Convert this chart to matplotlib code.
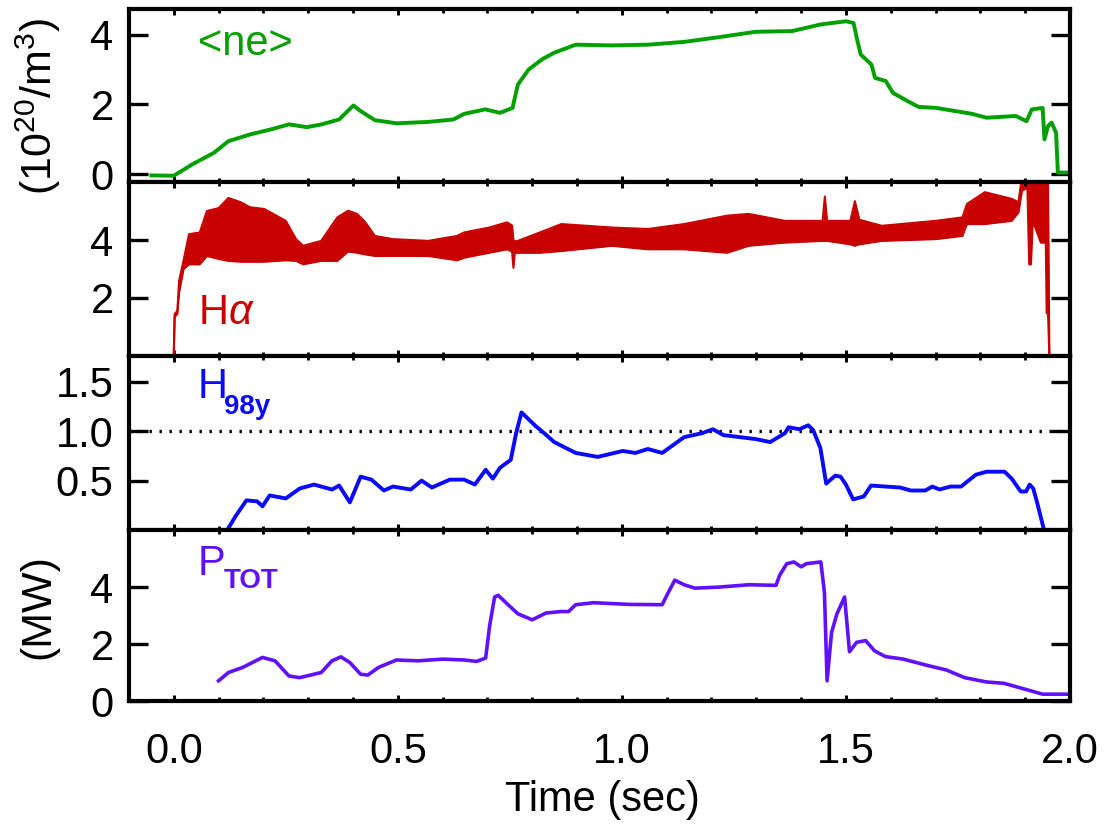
import matplotlib
matplotlib.use('Agg')
import matplotlib.pyplot as plt
from matplotlib.ticker import MultipleLocator

plt.rcParams['font.family'] = ['Liberation Sans', 'DejaVu Sans']
plt.rcParams['mathtext.fontset'] = 'custom'
plt.rcParams['mathtext.rm'] = 'Liberation Sans'
plt.rcParams['mathtext.it'] = 'Liberation Sans:italic'
plt.rcParams['mathtext.bf'] = 'Liberation Sans:bold'

# line averaged density <ne> (1e20/m3)
ne_t = [-0.05, 0.0, 0.042, 0.09, 0.122, 0.17, 0.218, 0.257, 0.297, 0.33, 0.369,
        0.401, 0.417, 0.449, 0.497, 0.568, 0.624, 0.648, 0.695, 0.728, 0.756,
        0.768, 0.792, 0.823, 0.849, 0.897, 0.978, 1.058, 1.139, 1.219, 1.299,
        1.380, 1.444, 1.500, 1.517, 1.525, 1.533, 1.557, 1.565, 1.589, 1.605,
        1.637, 1.662, 1.702, 1.782, 1.814, 1.879, 1.903, 1.915, 1.939, 1.943,
        1.951, 1.959, 1.969, 1.973, 2.0]
ne_v = [-0.03, -0.04, 0.29, 0.62, 0.95, 1.14, 1.29, 1.43, 1.35, 1.43, 1.57,
        1.97, 1.81, 1.55, 1.46, 1.50, 1.57, 1.73, 1.86, 1.76, 1.90,
        2.57, 3.0, 3.3, 3.48, 3.71, 3.69, 3.71, 3.79, 3.93, 4.08,
        4.10, 4.29, 4.38, 4.33, 3.86, 3.43, 3.14, 2.76, 2.67, 2.33,
        2.10, 1.93, 1.90, 1.73, 1.62, 1.67, 1.52, 1.86, 1.90, 1.0,
        1.38, 1.48, 1.19, 0.05, 0.05]

# H-alpha signal, upper / lower envelope of the noisy trace
ha_t = [-0.02, 0.0, 0.002, 0.008, 0.012, 0.022, 0.034, 0.058, 0.074, 0.10,
        0.122, 0.15, 0.17, 0.202, 0.25, 0.273, 0.289, 0.329, 0.365, 0.389,
        0.409, 0.425, 0.449, 0.489, 0.568, 0.632, 0.648, 0.704, 0.744, 0.755,
        0.758, 0.761, 0.768, 0.817, 0.865, 0.978, 1.058, 1.139, 1.235, 1.283,
        1.364, 1.448, 1.453, 1.458, 1.51, 1.52, 1.53, 1.58, 1.70, 1.76,
        1.77, 1.81, 1.87, 1.885, 1.893, 1.905, 1.909, 1.913, 1.917, 1.935,
        1.946, 1.948, 1.951, 1.954, 1.962]
ha_hi = [0.03, 0.03, 1.45, 1.55, 2.6, 3.3, 4.2, 4.26, 5.0, 5.1,
         5.45, 5.3, 5.13, 5.07, 4.66, 4.03, 3.80, 3.97, 4.78, 5.01,
         4.90, 4.66, 4.14, 4.03, 3.97, 4.14, 4.26, 4.43, 4.61, 4.5,
         4.0, 3.95, 3.97, 4.26, 4.55, 4.43, 4.38, 4.55, 4.84, 4.90,
         4.66, 4.66, 5.50, 4.66, 4.66, 5.34, 4.7, 4.49, 4.66, 4.78,
         5.24, 5.65, 5.42, 5.30, 6.2, 6.2, 6.2, 6.2, 6.2, 6.2,
         6.2, 6.2, 6.2, 0.03, 0.03]
ha_lo = [0.0, 0.0, 1.35, 1.45, 2.2, 3.0, 3.16, 3.16, 3.45, 3.35,
         3.28, 3.25, 3.25, 3.25, 3.30, 3.28, 3.16, 3.28, 3.28, 3.60,
         3.56, 3.51, 3.45, 3.45, 3.45, 3.30, 3.39, 3.56, 3.68, 3.6,
         3.04, 3.55, 3.56, 3.56, 3.62, 3.80, 3.68, 3.68, 3.56, 3.80,
         3.91, 3.97, 3.97, 3.97, 3.85, 3.80, 3.85, 3.97, 4.03, 4.14,
         4.55, 4.55, 4.66, 4.95, 5.7, 5.8, 3.16, 3.16, 4.66, 3.91,
         3.91, 1.48, 1.48, 0.0, 0.0]

# confinement factor H98y
h98_t = [0.122, 0.138, 0.162, 0.186, 0.198, 0.214, 0.25, 0.281, 0.313, 0.353,
         0.369, 0.393, 0.417, 0.441, 0.469, 0.489, 0.529, 0.553, 0.576, 0.616,
         0.648, 0.672, 0.696, 0.712, 0.728, 0.752, 0.764, 0.776, 0.808, 0.824,
         0.849, 0.897, 0.946, 1.002, 1.03, 1.058, 1.090, 1.139, 1.179, 1.203,
         1.227, 1.299, 1.331, 1.364, 1.372, 1.396, 1.416, 1.427, 1.443, 1.456,
         1.476, 1.488, 1.500, 1.516, 1.540, 1.556, 1.621, 1.645, 1.677, 1.693,
         1.709, 1.733, 1.757, 1.790, 1.814, 1.854, 1.870, 1.890, 1.902, 1.910,
         1.918, 1.926, 1.941]
h98_v = [0.02, 0.14, 0.30, 0.29, 0.24, 0.35, 0.32, 0.42, 0.46, 0.41,
         0.45, 0.28, 0.54, 0.51, 0.40, 0.44, 0.41, 0.50, 0.43, 0.51,
         0.51, 0.46, 0.61, 0.52, 0.63, 0.71, 0.98, 1.19, 1.05, 0.99,
         0.89, 0.78, 0.74, 0.80, 0.78, 0.82, 0.78, 0.94, 0.98, 1.02,
         0.96, 0.92, 0.89, 0.98, 1.04, 1.02, 1.06, 1.01, 0.83, 0.47,
         0.55, 0.54, 0.46, 0.31, 0.34, 0.45, 0.43, 0.40, 0.40, 0.44,
         0.41, 0.44, 0.44, 0.56, 0.59, 0.59, 0.52, 0.39, 0.39, 0.46,
         0.42, 0.29, 0.02]

# total heating power (MW)
pt_t = [0.10, 0.122, 0.154, 0.198, 0.226, 0.257, 0.281, 0.329, 0.353, 0.373,
        0.393, 0.417, 0.433, 0.457, 0.497, 0.545, 0.60, 0.648, 0.676, 0.696,
        0.705, 0.716, 0.724, 0.744, 0.768, 0.80, 0.831, 0.865, 0.881, 0.897,
        0.937, 1.018, 1.090, 1.102, 1.118, 1.139, 1.163, 1.219, 1.283, 1.344,
        1.352, 1.368, 1.384, 1.400, 1.412, 1.444, 1.452, 1.458, 1.468, 1.480,
        1.497, 1.508, 1.524, 1.544, 1.564, 1.588, 1.628, 1.684, 1.724, 1.765,
        1.813, 1.853, 1.894, 1.939, 2.0]
pt_v = [0.71, 1.0, 1.18, 1.53, 1.41, 0.88, 0.82, 1.0, 1.41, 1.55,
        1.35, 0.94, 0.91, 1.18, 1.44, 1.41, 1.47, 1.44, 1.39, 1.51,
        2.65, 3.65, 3.71, 3.41, 3.06, 2.85, 3.09, 3.14, 3.14, 3.38,
        3.45, 3.39, 3.38, 3.76, 4.24, 4.08, 3.96, 4.0, 4.08, 4.06,
        4.41, 4.82, 4.88, 4.71, 4.82, 4.88, 3.82, 0.71, 2.41, 3.06,
        3.65, 1.73, 2.06, 2.12, 1.76, 1.56, 1.47, 1.24, 1.09, 0.82,
        0.67, 0.62, 0.44, 0.24, 0.24]

green = '#00a000'
red = '#c80000'
blue = '#0a0aff'
purple = '#6010ff'

fig = plt.figure(figsize=(11.05, 8.3), dpi=100)
left, width = 0.1167, 0.8516
rects = [(left, 0.7807, width, 0.2084),
         (left, 0.5711, width, 0.2096),
         (left, 0.3614, width, 0.2096),
         (left, 0.1554, width, 0.2060)]
axs = [fig.add_axes(r) for r in rects]

for ax in axs:
    ax.set_xlim(-0.1, 2.0)
    ax.xaxis.set_major_locator(MultipleLocator(0.5))
    ax.xaxis.set_minor_locator(MultipleLocator(0.1))
    ax.tick_params(axis='x', which='major', direction='in', top=True, bottom=True,
                   length=4.3, width=2.2, labelsize=30, pad=22)
    ax.tick_params(axis='x', which='minor', direction='in', top=True, bottom=True,
                   length=2.9, width=2.0)
    ax.tick_params(axis='y', which='major', direction='in', left=True, right=True,
                   length=13.5, width=2.4, labelsize=30, pad=11)
    for s in ax.spines.values():
        s.set_linewidth(3.0)
    if ax is not axs[-1]:
        ax.tick_params(axis='x', labelbottom=False)

# density
ax = axs[0]
ax.plot(ne_t, ne_v, color=green, lw=2.8)
ax.set_ylim(-0.22, 4.73)
ax.set_yticks([0, 2, 4])
ax.text(0.073, 0.80, '<ne>', color=green, fontsize=30, transform=ax.transAxes,
        ha='left', va='center')

# H-alpha
ax = axs[1]
ax.fill_between(ha_t, ha_lo, ha_hi, color=red, lw=0)
ax.plot(ha_t, ha_hi, color=red, lw=1.5)
ax.plot(ha_t, ha_lo, color=red, lw=1.5)
ax.set_ylim(0, 6.0)
ax.set_yticks([2, 4])
ax.text(0.073, 0.247, r'H$\alpha$', color=red, fontsize=30, transform=ax.transAxes,
        ha='left', va='center')

# H98y
ax = axs[2]
ax.axhline(1.0, color='black', lw=2.4, ls=(0, (0.7, 2.3)))
ax.plot(h98_t, h98_v, color=blue, lw=2.8)
ax.set_ylim(0, 1.76)
ax.set_yticks([0.5, 1.0, 1.5])
ax.set_yticklabels(['0.5', '1.0', '1.5'])
ax.text(0.073, 0.82, 'H', color=blue, fontsize=30, transform=ax.transAxes,
        ha='left', va='center')
ax.text(0.101, 0.71, '98y', color=blue, fontsize=20, fontweight='bold',
        transform=ax.transAxes, ha='left', va='center')

# P_TOT
ax = axs[3]
ax.plot(pt_t, pt_v, color=purple, lw=2.6)
ax.set_ylim(0, 6.0)
ax.set_yticks([0, 2, 4])
ax.text(0.073, 0.80, 'P', color=purple, fontsize=30, transform=ax.transAxes,
        ha='left', va='center')
ax.text(0.101, 0.70, 'TOT', color=purple, fontsize=20, fontweight='bold',
        transform=ax.transAxes, ha='left', va='center')

fig.text(0.035, 0.872, r'(10$^{20}$/m$^{3}$)', rotation=90, fontsize=31,
         ha='center', va='center')
fig.text(0.035, 0.269, '(MW)', rotation=90, fontsize=31, ha='center', va='center')
fig.text(0.545, 0.036, 'Time (sec)', fontsize=30, ha='center', va='center')

fig.savefig('out.png', dpi=100)
